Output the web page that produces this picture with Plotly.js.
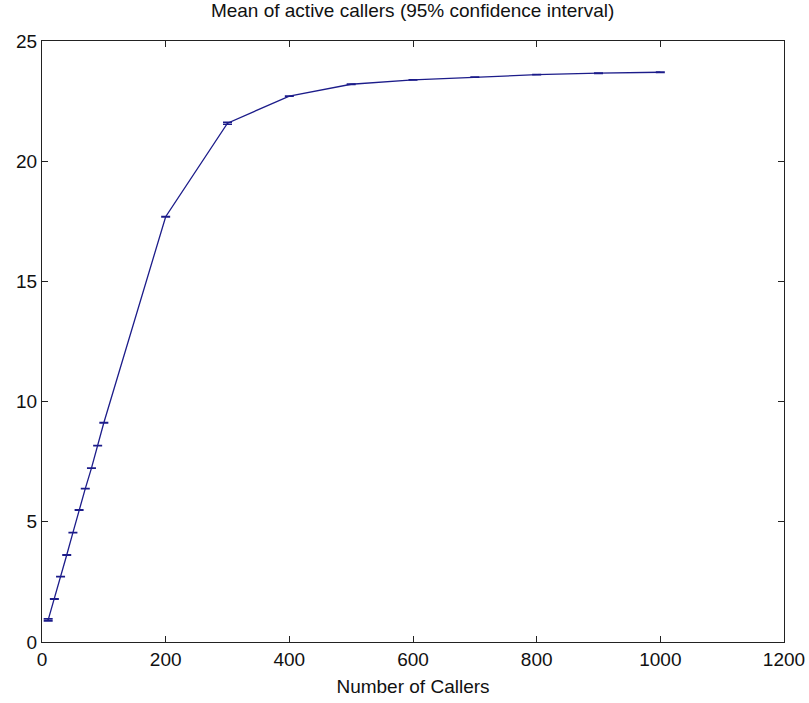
<!DOCTYPE html>
<html>
<head>
<meta charset="utf-8">
<script src="https://cdn.plot.ly/plotly-3.0.1.min.js"></script>
<style>html,body{margin:0;padding:0;background:#fff;}#chart{width:809px;height:703px;}</style>
</head>
<body>
<div id="chart"></div>
<script>
const callers = [10, 20, 30, 40, 50, 60, 70, 80, 90, 100, 200, 300, 400, 500, 600, 700, 800, 900, 1000];
const meanActive = [0.92, 1.79, 2.72, 3.62, 4.55, 5.49, 6.38, 7.23, 8.17, 9.12, 17.69, 21.58, 22.71, 23.2, 23.38, 23.5, 23.6, 23.66, 23.7];
const ciHalf = [0.04, 0.005, 0.005, 0.005, 0.005, 0.005, 0.005, 0.005, 0.005, 0.005, 0.005, 0.04, 0.005, 0.005, 0.005, 0.005, 0.005, 0.005, 0.005];
const xTicks = [0, 200, 400, 600, 800, 1000, 1200];
const yTicks = [0, 5, 10, 15, 20, 25];

const font = {family: '"Liberation Sans", Arial, sans-serif', size: 19, color: '#111'};

const trace = {
  x: callers, y: meanActive, type: 'scatter', mode: 'lines',
  line: {color: '#1c1c8a', width: 1.3},
  error_y: {type: 'data', array: ciHalf, visible: true, color: '#1c1c8a', thickness: 1.6, width: 4.5}
};

const layout = {
  width: 809, height: 703,
  margin: {l: 42, r: 25, t: 41, b: 61},
  paper_bgcolor: '#fff', plot_bgcolor: '#fff',
  showlegend: false,
  font: font,
  title: {text: 'Mean of active callers (95% confidence interval)', font: font, x: 0.51, xanchor: 'center', y: 0.995, yanchor: 'top'},
  xaxis: {
    range: [0, 1200], tickvals: xTicks, ticktext: xTicks.map(String),
    ticks: 'inside', ticklen: 6, tickcolor: '#222', tickwidth: 1,
    showline: true, linecolor: '#222', linewidth: 1, mirror: 'ticks',
    showgrid: false, zeroline: false, tickfont: font,
    title: {text: 'Number of Callers', font: font, standoff: 10}
  },
  yaxis: {
    range: [0, 25], tickvals: yTicks, ticktext: yTicks.map(String),
    ticks: 'inside', ticklen: 6, tickcolor: '#222', tickwidth: 1,
    showline: true, linecolor: '#222', linewidth: 1, mirror: 'ticks',
    showgrid: false, zeroline: false, tickfont: font
  }
};

Plotly.newPlot('chart', [trace], layout, {displayModeBar: false, staticPlot: true});
</script>
</body>
</html>
